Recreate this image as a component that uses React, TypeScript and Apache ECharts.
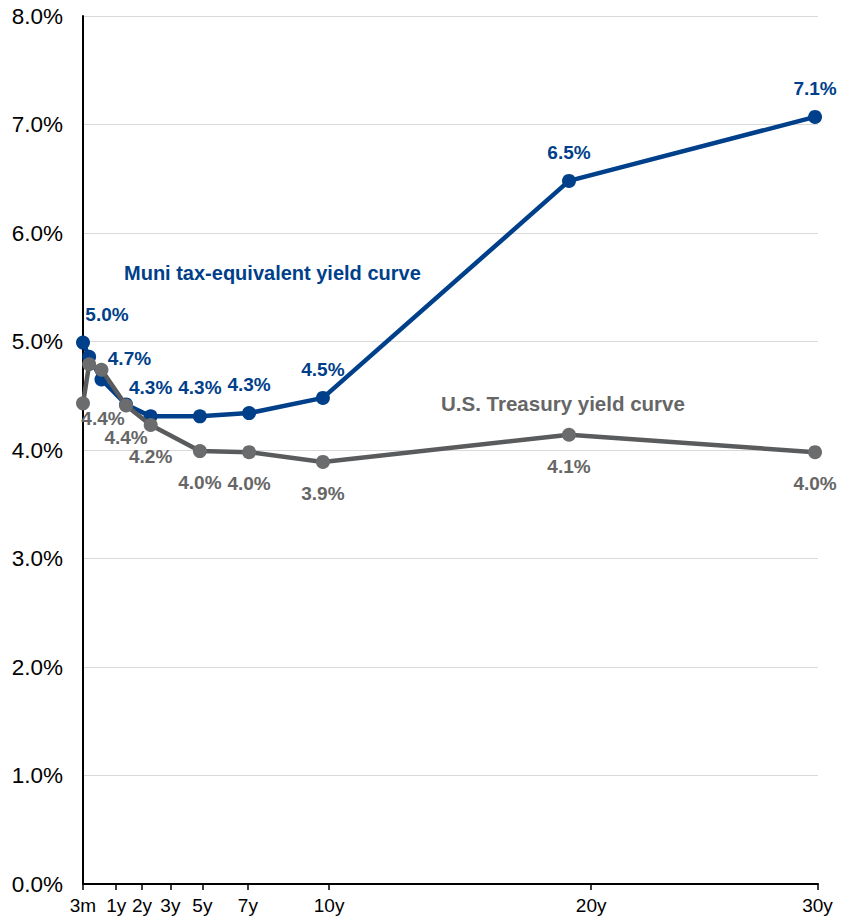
import React, { useEffect, useRef } from "react";
import * as echarts from "echarts";

const maturities = [0.25, 0.5, 1, 2, 3, 5, 7, 10, 20, 30];
const muniYields = [4.99, 4.86, 4.65, 4.42, 4.31, 4.31, 4.34, 4.48, 6.48, 7.07];
const treasuryYields = [4.43, 4.79, 4.74, 4.41, 4.23, 3.99, 3.98, 3.89, 4.14, 3.98];
const muniLabelShown = [true, false, true, false, true, true, true, true, true, true];
const treasuryLabelShown = [true, false, false, true, true, true, true, true, true, true];
const tickValues = [0.25, 1.6, 2.65, 3.8, 5.1, 6.95, 10.25, 20.9, 30.1];
const tickLabels = ["3m", "1y", "2y", "3y", "5y", "7y", "10y", "20y", "30y"];
const yTicks = [0, 1, 2, 3, 4, 5, 6, 7, 8];

const BLUE = "#003f8a";
const GRAY = "#5a5b5d";
const FONT = "'Liberation Sans', Arial, sans-serif";

export default function App() {
  const ref = useRef<HTMLDivElement>(null);
  useEffect(() => {
    const chart = echarts.init(ref.current!, null, { renderer: "svg" });
    const muniData = maturities.map((m, i) => {
      const item: any = { value: [m, muniYields[i]] };
      if (!muniLabelShown[i]) item.label = { show: false };
      if (i === 0) item.label = { offset: [24, 0] };
      if (i === 2) item.label = { offset: [28, 8] };
      return item;
    });
    const treasuryData = maturities.map((m, i) => {
      const item: any = { value: [m, treasuryYields[i]] };
      if (!treasuryLabelShown[i]) item.label = { show: false };
      if (i === 0) item.label = { offset: [20, -16] };
      return item;
    });
    chart.setOption({
      animation: false,
      grid: { left: 83, right: 24, top: 16, bottom: 39 },
      xAxis: {
        type: "value",
        min: 0.25,
        max: 30.12,
        splitLine: { show: false },
        axisLine: { show: true, lineStyle: { color: "#000", width: 2 } },
        axisTick: {
          show: true,
          customValues: tickValues,
          length: 6,
          lineStyle: { color: "#000", width: 1.5 },
        },
        axisLabel: {
          customValues: tickValues,
          formatter: (v: number) => {
            const idx = tickValues.findIndex((t) => Math.abs(t - v) < 1e-6);
            return idx >= 0 ? tickLabels[idx] : "";
          },
          color: "#000",
          fontSize: 19,
          fontFamily: FONT,
          margin: 12,
        },
      },
      yAxis: {
        type: "value",
        min: 0,
        max: 8,
        interval: 1,
        axisLine: { show: true, lineStyle: { color: "#000", width: 2 } },
        axisTick: { show: false },
        splitLine: { show: true, lineStyle: { color: "#d9d9d9", width: 1 } },
        axisLabel: {
          formatter: (v: number) => (yTicks.includes(v) ? v.toFixed(1) + "%" : ""),
          color: "#000",
          fontSize: 22.5,
          fontFamily: FONT,
          margin: 20,
        },
      },
      series: [
        {
          name: "Muni tax-equivalent yield curve",
          type: "line",
          data: muniData,
          symbol: "circle",
          symbolSize: 14,
          lineStyle: { color: BLUE, width: 4.5 },
          itemStyle: { color: BLUE },
          label: {
            show: true,
            position: "top",
            distance: 12,
            formatter: (p: any) => p.value[1].toFixed(1) + "%",
            color: BLUE,
            fontSize: 19,
            fontWeight: "bold",
            fontFamily: FONT,
          },
          z: 2,
        },
        {
          name: "U.S. Treasury yield curve",
          type: "line",
          data: treasuryData,
          symbol: "circle",
          symbolSize: 14,
          lineStyle: { color: GRAY, width: 4.5 },
          itemStyle: { color: "#6b6c6e" },
          label: {
            show: true,
            position: "bottom",
            distance: 15,
            formatter: (p: any) => p.value[1].toFixed(1) + "%",
            color: "#666666",
            fontSize: 19,
            fontWeight: "bold",
            fontFamily: FONT,
          },
          z: 3,
        },
      ],
      graphic: [
        {
          type: "text",
          left: 124,
          top: 263,
          style: {
            text: "Muni tax-equivalent yield curve",
            fill: BLUE,
            font: "bold 20px " + FONT,
          },
        },
        {
          type: "text",
          left: 441,
          top: 393,
          style: {
            text: "U.S. Treasury yield curve",
            fill: "#666666",
            font: "bold 20.5px " + FONT,
          },
        },
      ],
    });
    return () => chart.dispose();
  }, []);
  return <div ref={ref} style={{ width: 842, height: 923, position: "absolute", left: 0, top: 0 }} />;
}
